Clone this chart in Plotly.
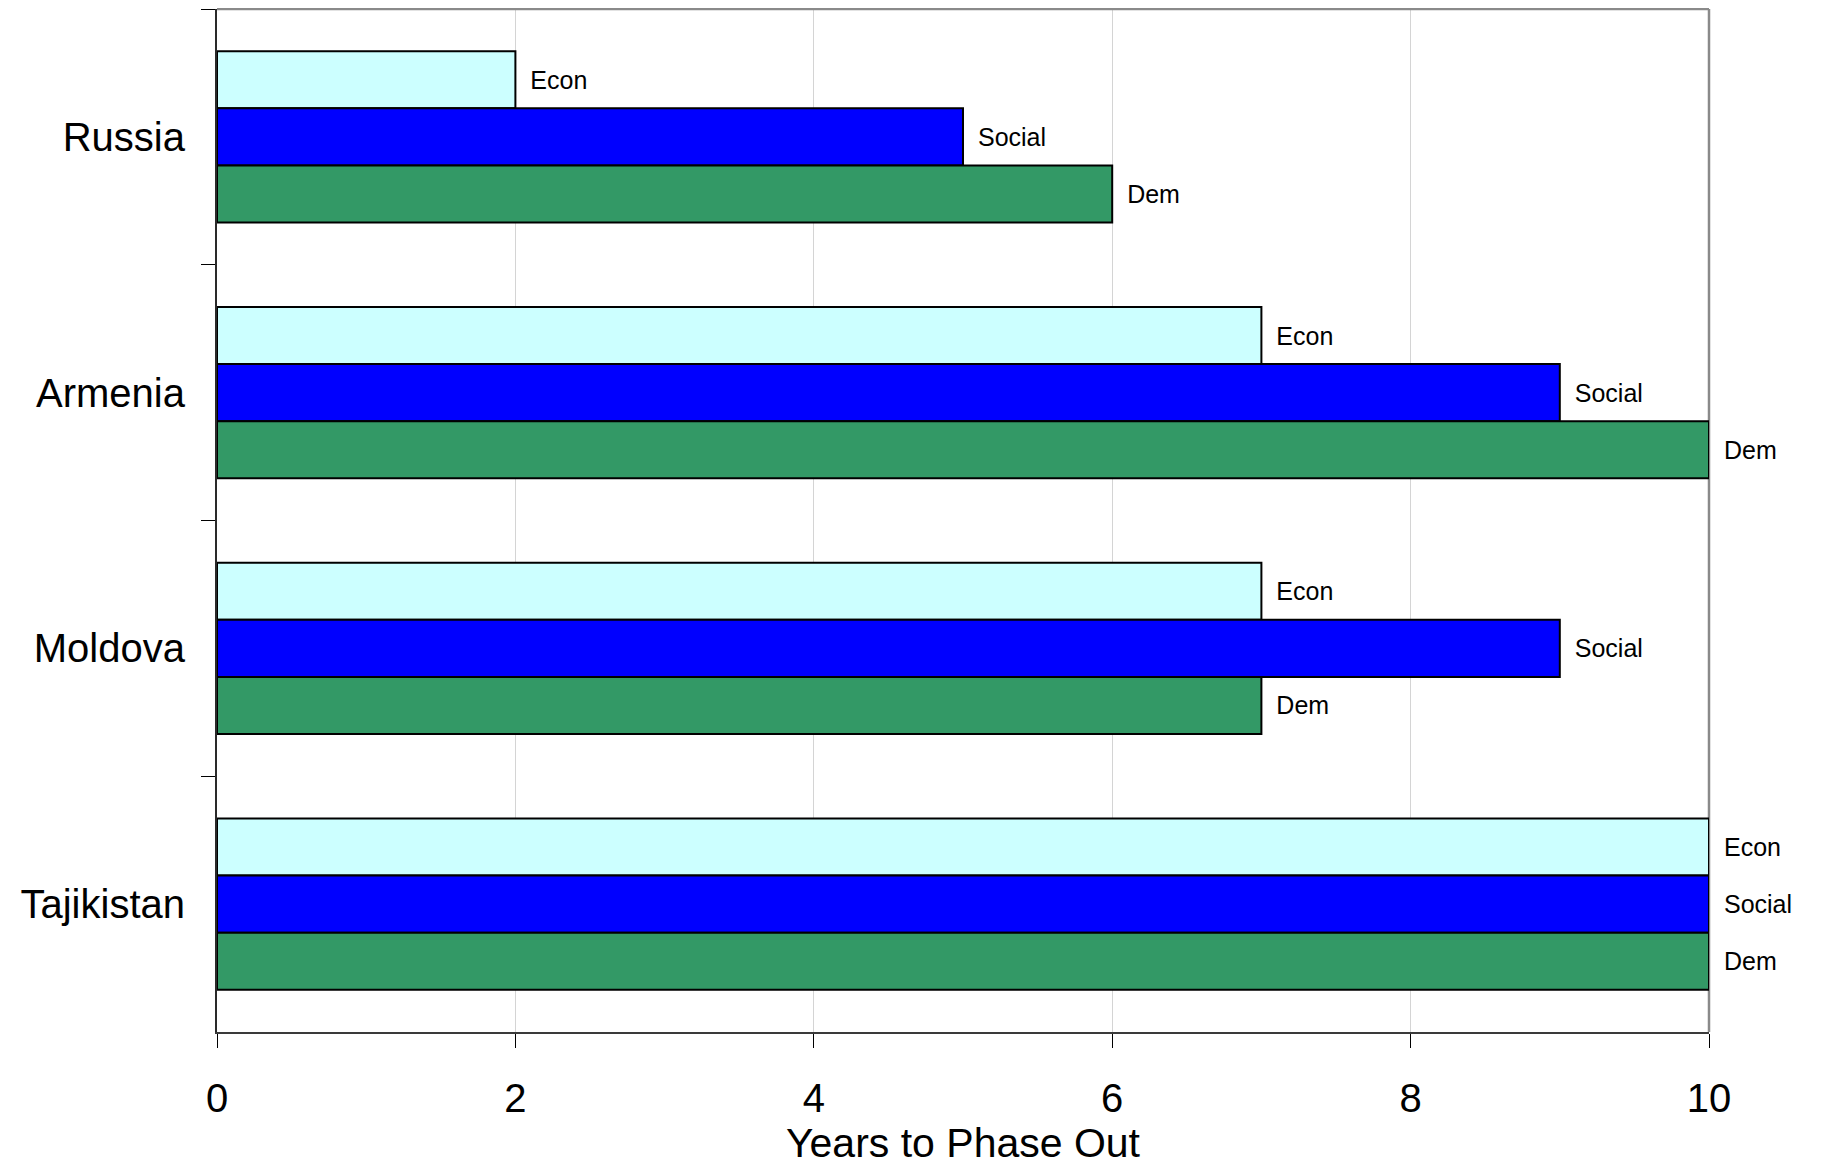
import plotly.graph_objects as go

countries = ["Russia", "Armenia", "Moldova", "Tajikistan"]
econ = [2, 7, 7, 10]
social = [5, 9, 9, 10]
dem = [6, 10, 7, 10]
series_names = ["Econ", "Social", "Dem"]
series_values = [econ, social, dem]
series_colors = ["#CCFFFF", "#0000FF", "#339966"]
x_ticks = [0, 2, 4, 6, 8, 10]

FONT = "Liberation Sans, Arial, sans-serif"

fig = go.Figure()
for name, vals, col in zip(series_names, series_values, series_colors):
    fig.add_trace(go.Bar(
        name=name,
        y=countries,
        x=vals,
        orientation="h",
        marker=dict(color=col, line=dict(color="#000000", width=2)),
        text=[name] * len(vals),
        texttemplate="\u00a0\u2009%{text}",
        textposition="outside",
        textfont=dict(family=FONT, size=25, color="#000000"),
        constraintext="none",
        cliponaxis=False,
        hoverinfo="skip",
    ))

# page body adds an 8px margin, so the figure is sized to fit the window
fig.update_layout(
    barmode="group",
    bargap=0.33,
    bargroupgap=0,
    width=1818,
    height=1158,
    margin=dict(l=209, r=117, t=1, b=134, autoexpand=False),
    paper_bgcolor="white",
    plot_bgcolor="white",
    showlegend=False,
    font=dict(family=FONT, color="#000000"),
)

# grey frame on the top and right edges of the plot area
fig.add_shape(type="line", xref="paper", yref="paper", x0=0, x1=1, y0=1, y1=1,
              line=dict(color="#8a8a8a", width=2.5), layer="above")
fig.add_shape(type="line", xref="paper", yref="paper", x0=1, x1=1, y0=0, y1=1,
              line=dict(color="#8a8a8a", width=2.5), layer="below")

fig.update_xaxes(
    range=[0, 10],
    tickvals=x_ticks,
    ticktext=[str(v) for v in x_ticks],
    tickfont=dict(family=FONT, size=40, color="#000000"),
    ticks="outside",
    ticklen=14,
    tickcolor="#000000",
    tickwidth=1,
    ticklabelstandoff=16,
    showgrid=True,
    gridcolor="#d4d4d4",
    gridwidth=1,
    showline=True,
    linecolor="#3a3a3a",
    linewidth=2,
    mirror=False,
    zeroline=False,
    title=dict(text="Years to Phase Out", font=dict(family=FONT, size=41, color="#000000"), standoff=4),
)

fig.update_yaxes(
    autorange="reversed",
    type="category",
    tickson="boundaries",
    ticks="outside",
    ticklen=14,
    tickcolor="#000000",
    tickwidth=1,
    ticklabelstandoff=22,
    tickfont=dict(family=FONT, size=40, color="#000000"),
    showgrid=False,
    showline=True,
    linecolor="#2a2a2a",
    linewidth=2,
    mirror=False,
    zeroline=False,
)

fig.write_html("out.html")
